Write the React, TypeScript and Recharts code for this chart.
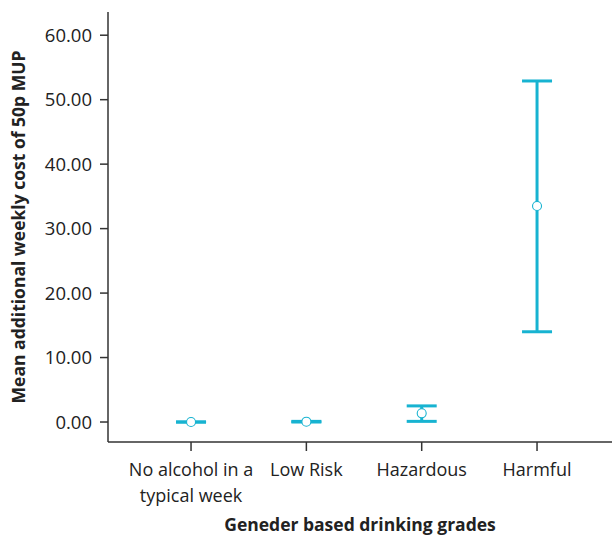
import React from 'react';
import { ComposedChart, Scatter, ErrorBar, XAxis, YAxis, Label } from 'recharts';

const categories = [['No alcohol in a', 'typical week'], ['Low Risk'], ['Hazardous'], ['Harmful']];
const means = [0.0, 0.05, 1.35, 33.5];
const lowerCI = [0.0, 0.0, 0.1, 14.0];
const upperCI = [0.0, 0.1, 2.5, 52.9];
const yTicks = [0, 10, 20, 30, 40, 50, 60];

const data = means.map((m, i) => ({
  x: i,
  mean: m,
  err: [m - lowerCI[i], upperCI[i] - m],
}));

const COLOR = '#17b3d1';
const FONT = '"Open Sans", sans-serif';
const TEXT = '#222';

const XTick = (props: any) => {
  const { x, y, payload } = props;
  const lines = categories[payload.value] || [];
  return (
    <text x={x} y={y} textAnchor="middle" fontFamily={FONT} fontSize={18} fill={TEXT}>
      {lines.map((l: string, i: number) => (
        <tspan key={i} x={x} dy={i === 0 ? 23 : 26}>{l}</tspan>
      ))}
    </text>
  );
};

const Dot = (props: any) => {
  const { cx, cy } = props;
  return <circle cx={cx} cy={cy} r={4.5} fill="#fff" stroke={COLOR} strokeWidth={1.1} />;
};

export default function App() {
  return (
    <div style={{ position: 'absolute', left: 0, top: 0, background: '#fff' }}>
      <ComposedChart width={613} height={537} data={data} margin={{ top: 12, right: 1, bottom: 35, left: 8 }}>
        <XAxis
          type="number"
          dataKey="x"
          domain={[-0.72, 3.65]}
          ticks={[0, 1, 2, 3]}
          tick={<XTick />}
          tickSize={9}
          height={60}
          stroke="#333"
          strokeWidth={1.5}
          interval={0}
          allowDataOverflow
        >
          <Label
            value="Geneder based drinking grades"
            position="bottom"
            offset={17}
            fontFamily={FONT}
            fontSize={17.5}
            fontWeight="bold"
            fill={TEXT}
          />
        </XAxis>
        <YAxis
          type="number"
          domain={[-3.1, 63.6]}
          ticks={yTicks}
          tickFormatter={(v: number) => v.toFixed(2)}
          tick={{ fontFamily: FONT, fontSize: 18.5, fill: TEXT }}
          tickSize={8}
          tickMargin={8}
          width={100}
          stroke="#333"
          strokeWidth={1.5}
          allowDataOverflow
        >
          <Label
            value="Mean additional weekly cost of 50p MUP"
            angle={-90}
            position="insideLeft"
            offset={11}
            fontFamily={FONT}
            fontSize={17.5}
            fontWeight="bold"
            fill={TEXT}
            style={{ textAnchor: 'middle' }}
          />
        </YAxis>
        <Scatter dataKey="mean" isAnimationActive={false} shape={<Dot />}>
          <ErrorBar dataKey="err" direction="y" width={15} stroke={COLOR} strokeWidth={3} isAnimationActive={false} />
        </Scatter>
      </ComposedChart>
    </div>
  );
}
